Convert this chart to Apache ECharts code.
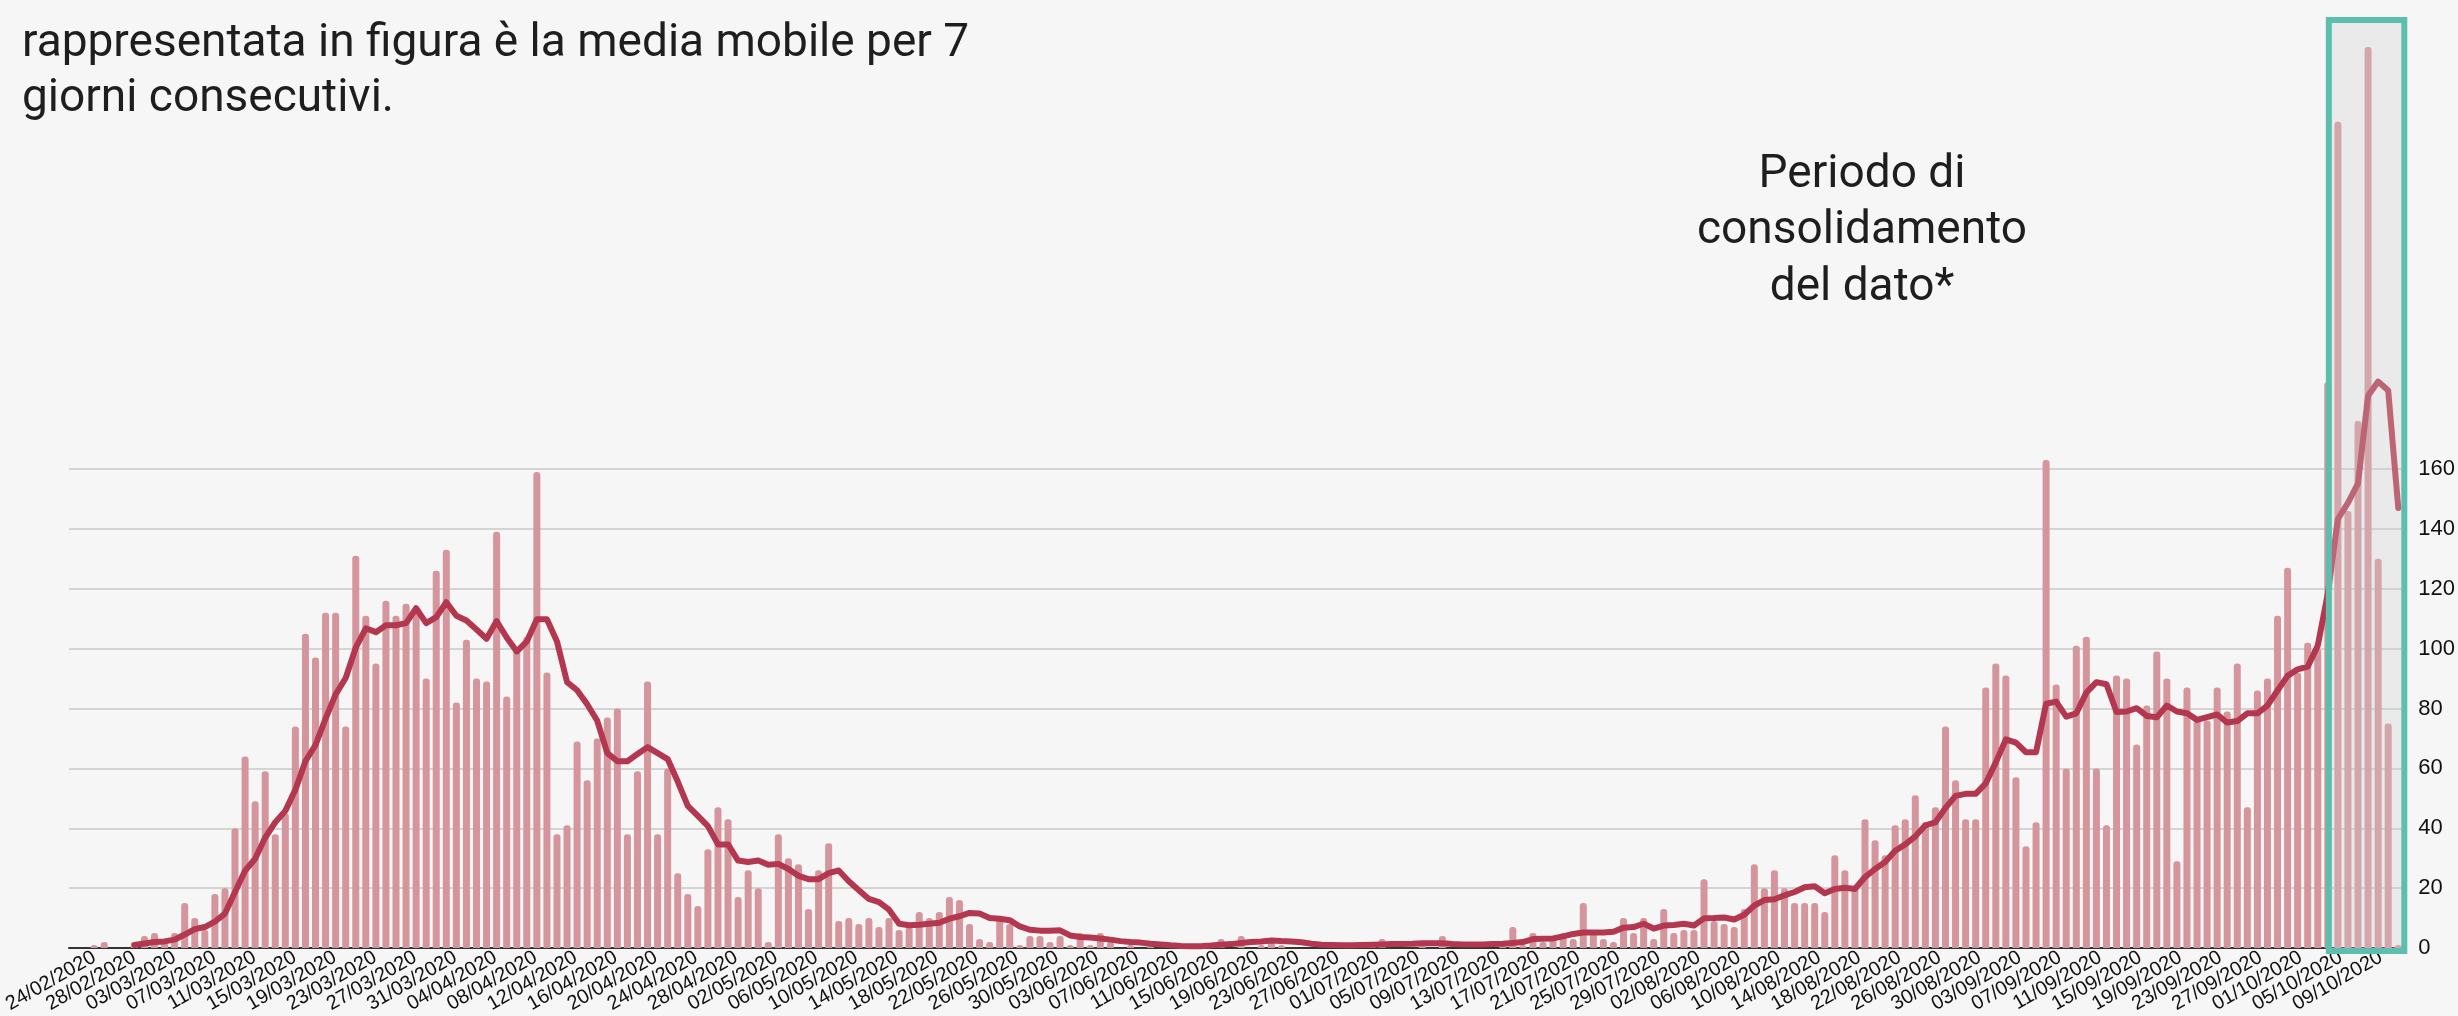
<!DOCTYPE html>
<html>
<head>
<meta charset="utf-8">
<script src="https://cdn.jsdelivr.net/npm/echarts@6/dist/echarts.min.js"></script>
<style>
  html, body { margin: 0; padding: 0; background: #f6f6f6; }
  #chart { width: 2458px; height: 1016px; }
</style>
</head>
<body>
<div id="chart"></div>
<script>
// one category per day, 24/02/2020 .. 12/10/2020
const firstDay = Date.UTC(2020, 1, 24);
const dayCount = 232;
const days = [];
for (let i = 0; i < dayCount; i++) {
  const d = new Date(firstDay + i * 86400000);
  const dd = String(d.getUTCDate()).padStart(2, "0");
  const mm = String(d.getUTCMonth() + 1).padStart(2, "0");
  days.push(dd + "/" + mm + "/" + d.getUTCFullYear());
}

// daily counts
const daily = [
  0, 0, 1, 2, 0, 0, 2, 4, 5, 3, 5, 15, 10, 6, 18, 20, 40, 64, 49, 59,
  38, 45, 74, 105, 97, 112, 112, 74, 131, 111, 95, 116, 111, 115, 113, 90, 126, 133, 82, 103,
  90, 89, 139, 84, 100, 104, 159, 92, 38, 41, 69, 56, 70, 77, 80, 38, 59, 89, 38, 60,
  25, 18, 14, 33, 47, 43, 17, 26, 20, 2, 38, 30, 28, 13, 26, 35, 9, 10, 8, 10,
  7, 10, 6, 7, 12, 10, 12, 17, 16, 8, 3, 2, 10, 8, 1, 4, 4, 2, 4, 1,
  5, 1, 5, 2, 0, 1, 0, 1, 0, 0, 0, 0, 0, 0, 3, 0, 4, 0, 1, 2,
  1, 0, 0, 0, 0, 0, 0, 0, 1, 2, 3, 0, 0, 0, 1, 0, 4, 0, 0, 0,
  0, 0, 1, 7, 1, 5, 2, 3, 5, 3, 15, 5, 3, 2, 10, 5, 10, 3, 13, 5,
  6, 6, 23, 9, 8, 7, 13, 28, 20, 26, 20, 15, 15, 15, 12, 31, 26, 20, 43, 36,
  31, 41, 43, 51, 42, 47, 74, 56, 43, 43, 87, 95, 91, 57, 34, 42, 163, 88, 60, 101,
  104, 60, 41, 91, 90, 68, 81, 99, 90, 29, 87, 76, 76, 87, 79, 95, 47, 86, 90, 111,
  127, 92, 102, 100, 189, 276, 146, 176, 301, 130, 75, 1
];

// 7-day moving average as drawn in the picture
const movingAvg = [
  null, null, null, null, null, null, 1, 1.5, 2, 2.2, 2.8, 4.5, 6.3, 7, 8.8, 11.5, 18.7, 25.8, 29.8, 36.9,
  42, 45.8, 52.9, 62.4, 67.8, 76.6, 84.7, 90.2, 100.3, 106.8, 105.5, 107.8, 107.8, 108.5, 113.5, 108.5, 110.5, 115.5, 111, 109.4,
  106.4, 103.3, 109.2, 103.7, 99, 102.4, 109.8, 109.8, 102.4, 88.8, 86.1, 81.4, 75.9, 65.1, 62.4, 62.4, 64.8, 67.1, 65.1, 63.1,
  55.6, 47.5, 44.1, 40.7, 34.6, 34.6, 29.2, 28.7, 29.2, 27.8, 28.1, 26.4, 24.1, 23, 23, 25, 25.9, 22.3, 19.3, 16.4,
  15.3, 12.8, 8.1, 7.6, 7.8, 8.1, 8.4, 9.8, 10.6, 11.7, 11.5, 10, 9.8, 9.3, 7.2, 6.1, 5.8, 5.8, 5.9, 4.2,
  3.7, 3.5, 3.2, 2.8, 2.3, 2, 1.8, 1.4, 1.2, 0.9, 0.7, 0.6, 0.6, 0.8, 1.1, 1.3, 1.7, 2, 2.2, 2.5,
  2.3, 2.2, 1.9, 1.4, 1.1, 1, 0.9, 0.9, 1, 1.1, 1.2, 1.3, 1.3, 1.4, 1.6, 1.6, 1.6, 1.3, 1.2, 1.2,
  1.2, 1.3, 1.4, 1.7, 2, 3, 3.1, 3.2, 3.9, 4.7, 5.2, 5.2, 5.2, 5.4, 6.8, 7, 8.1, 6.5, 7.5, 7.7,
  8.1, 7.5, 9.9, 10, 10.2, 9.5, 11.1, 14.2, 16, 16.3, 17.6, 18.7, 20.3, 20.6, 18.3, 19.7, 20.1, 19.7, 23.7, 26.4,
  28.7, 32.5, 34.6, 37.3, 41, 42, 46.8, 50.8, 51.5, 51.5, 55, 62, 69.7, 68.6, 65.4, 65.4, 81.6, 82.3, 77.3, 78.4,
  85.3, 88.8, 88.1, 78.8, 79, 80.1, 77.5, 77.1, 81, 79, 78.4, 76.2, 77.1, 78, 75.3, 75.8, 78.4, 78.4, 81, 86,
  90.9, 93.1, 94, 101, 118.4, 143.3, 148.7, 155.2, 184.5, 189.2, 186.2, 147
];

const yTicks = { min: 0, max: 160, step: 20 };
const noteLines = ["rappresentata in figura è la media mobile per 7", "giorni consecutivi."];
const boxLines = ["Periodo di", "consolidamento", "del dato*"];
const boxFrom = "05/10/2020";

const chart = echarts.init(document.getElementById("chart"));

const plot = { left: 69, right: 53, top: 469, bottom: 68 };
const labelShift = 11; // date labels sit a little to the right of their bar

const option = {
  backgroundColor: "#f6f6f6",
  animation: false,
  grid: [
    plot,
    { left: plot.left + labelShift, right: plot.right - labelShift, top: plot.top, bottom: plot.bottom }
  ],
  xAxis: [
    {
      type: "category",
      data: days,
      axisTick: { show: false },
      axisLine: { lineStyle: { color: "#333", width: 2 } },
      axisLabel: { show: false }
    },
    {
      type: "category",
      gridIndex: 1,
      data: days,
      axisTick: { show: false },
      axisLine: { show: false },
      axisLabel: {
        interval: 3,
        rotate: 30,
        margin: 12,
        fontSize: 20,
        fontFamily: "Liberation Sans",
        color: "#111"
      }
    }
  ],
  yAxis: [
    {
      type: "value",
      position: "right",
      min: yTicks.min,
      max: yTicks.max,
      interval: yTicks.step,
      axisLine: { show: false },
      axisTick: { show: false },
      axisLabel: { margin: 15, fontSize: 22, fontFamily: "Liberation Sans", color: "#111" },
      splitLine: { lineStyle: { color: "#c9c9c9", width: 1.5 } }
    },
    { type: "value", gridIndex: 1, show: false, min: yTicks.min, max: yTicks.max }
  ],
  series: [
    {
      name: "giornaliero",
      type: "bar",
      data: daily,
      barWidth: 7,
      clip: false,
      itemStyle: { color: "#d4969c", borderRadius: [3, 3, 0, 0] }
    },
    {
      name: "media mobile",
      type: "line",
      data: movingAvg,
      clip: false,
      symbol: "none",
      z: 3,
      lineStyle: { color: "#b3384f", width: 6, join: "round", cap: "round" }
    }
  ]
};

chart.setOption(option);

// text notes
const graphics = [];
noteLines.forEach((t, k) => {
  graphics.push({
    type: "text", x: 22, y: 44 + k * 55, z: 50,
    style: { text: t, font: "46px Roboto", fill: "#1e1e1e", verticalAlign: "middle" }
  });
});
boxLines.forEach((t, k) => {
  graphics.push({
    type: "text", x: 1862, y: 175 + k * 56.5, z: 50,
    style: { text: t, font: "46px Roboto", fill: "#1e1e1e", align: "center", verticalAlign: "middle" }
  });
});

// highlighted box over the last days
const iFrom = days.indexOf(boxFrom);
const xA = chart.convertToPixel({ xAxisIndex: 0 }, days[iFrom]);
const xB = chart.convertToPixel({ xAxisIndex: 0 }, days[dayCount - 1]);
const band = (xB - xA) / (dayCount - 1 - iFrom);
const yTop = chart.convertToPixel({ yAxisIndex: 0 }, 310);
const yBase = chart.convertToPixel({ yAxisIndex: 0 }, 0);
graphics.push({
  type: "rect", z: 100,
  shape: { x: xA + 1, y: yTop, width: xB + band / 2 - xA, height: yBase - yTop + 3 },
  style: { fill: "rgba(205,205,205,0.3)", stroke: "#5cbfad", lineWidth: 6 }
});

chart.setOption({ graphic: graphics });
</script>
</body>
</html>
